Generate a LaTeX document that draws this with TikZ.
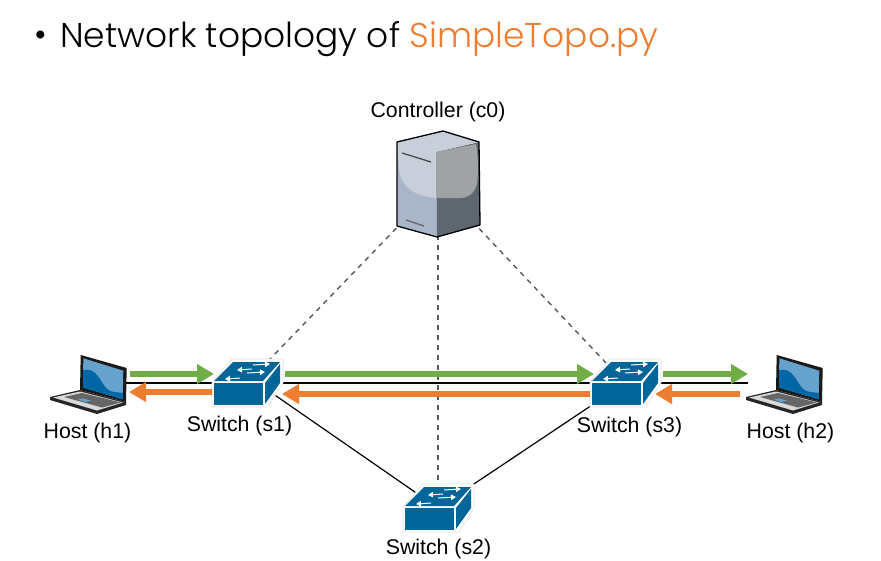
\documentclass[tikz,border=0pt]{standalone}
\usepackage{fontspec}
\setmainfont{Liberation Sans}
\newfontfamily\titlefont{Poppins Light}
\usetikzlibrary{arrows.meta}
\definecolor{swblue}{HTML}{006699}
\definecolor{lapdark}{HTML}{0066A6}
\definecolor{laplight}{HTML}{66A3CC}
\definecolor{arrgreen}{HTML}{70AD47}
\definecolor{arrorange}{HTML}{ED7D31}
\definecolor{srvfront}{HTML}{A9B5C9}
\definecolor{srvside}{HTML}{5E676F}
\definecolor{srvtop}{HTML}{C9CEDB}
\definecolor{srvlight}{HTML}{9FA3A3}
\tikzset{
  anchornode/.style={minimum width=14pt, minimum height=14pt, inner sep=0pt},
  lbl/.style={font=\fontsize{21.3}{24}\selectfont, inner sep=0pt},
  ttl/.style={font=\titlefont\fontsize{34.4}{40}\selectfont, inner sep=0pt},
  ctrl/.style={black!65, line width=1.4pt, dash pattern=on 5pt off 5pt},
  wire/.style={black, line width=1.2pt},
  greenarr/.style={arrgreen, line width=6pt, -{Triangle[length=17pt,width=19pt]}},
  orangearr/.style={arrorange, line width=6pt, -{Triangle[length=17pt,width=19pt]}},
  swarr/.style={white, line width=1pt, -{Triangle[length=5pt,width=5.5pt]}},
  switchicon/.pic={
    \fill[white, draw=black!12, line width=.6pt] (-35,24) -- (-35,-1) -- (-15,-24) -- (36,-24) -- (36,0) -- (21,24) -- cycle;
    \fill[swblue] (-33,22) rectangle (16,0);
    \fill[swblue] (-33,-2) -- (-14,-21) -- (33,-21) -- (16,-2) -- cycle;
    \fill[swblue] (18,0) -- (33,-19) -- (33,0) -- (18,21) -- cycle;
    \draw[swarr] (6,-18) -- (23,-19);
    \draw[swarr] (5,-14) -- (-10,-13);
    \draw[swarr] (0,-10) -- (18,-11);
    \draw[swarr] (-7,-5) -- (-22,-4);
  },
  laptopicon/.pic={
    \fill[black!85] (-30,7) -- (0,0) -- (46,12) -- (46,15) -- (17,24) -- (-30,10) -- cycle;
    \fill[black!15] (-27,7.5) -- (0,1.5) -- (43,12.5) -- (17,20.5) -- cycle;
    \fill[black!60] (-16,7) -- (2,3) -- (41,12.5) -- (22,17.5) -- cycle;
    \fill[laplight] (-2,9.5) -- (3,8.5) -- (11,10.5) -- (5,12) -- cycle;
    \fill[black!90] (0.7,-35) -- (46.7,-22) -- (46,12) -- (0,0) -- cycle;
    \fill[laplight] (3.3,-31.7) -- (43.3,-19.3) -- (42.7,9.3) -- (3,-2.5) -- cycle;
    \fill[lapdark] (3.2,-20) .. controls (17,-23) and (20,-8) .. (27,-1) .. controls (32,3) and (38,2) .. (42.8,3) -- (42.7,9.3) -- (3,-2.5) -- cycle;
  }
}
\begin{document}
\begin{tikzpicture}[x=1pt,y=-1pt]
\useasboundingbox (0,0) rectangle (881,560);
\draw (41,39) node (bullet) [ttl] {•};
\draw (60,39) node (title) [ttl, anchor=west] {Network topology of \textcolor{arrorange}{SimpleTopo.py}};
\draw (438,185) node (c0) [anchornode] {};
\draw (247,383) node (s1) [anchornode] {};
\draw (625,383) node (s3) [anchornode] {};
\draw (438,508) node (s2) [anchornode] {};
\draw (126,383) node (h1) [inner sep=0pt] {};
\draw (748,383) node (h2) [inner sep=0pt] {};
\draw[ctrl] (c0.center) -- (s1.center);
\draw[ctrl] (c0.center) -- (s2.center);
\draw[ctrl] (c0.center) -- (s3.center);
\draw[wire] (h1.center) -- (s1.center);
\draw[wire] (s1.center) -- (s3.center);
\draw[wire] (s3.center) -- (h2.center);
\draw[wire] (s1.north) -- (s2.center);
\draw[wire] (s3.center) -- (s2.center);
\pic at (s1) {switchicon};
\pic at (s2) {switchicon};
\pic at (s3) {switchicon};
\pic at (80,390) {laptopicon};
\pic at (776,390) {laptopicon};
% server
\fill[srvfront] (397,142) -- (436,152) -- (437,237) -- (397,226) -- cycle;
\fill[srvside] (436,152) -- (479,142) -- (480,225) -- (437,237) -- cycle;
\fill[srvtop] (397,142) -- (443,131) -- (479,142) -- (436,152) -- cycle;
\fill[srvtop] (397,142) -- (436,152) -- (436,198) .. controls (415,196) and (402,188) .. (399,170) -- cycle;
\fill[srvlight] (436,152) -- (476,144) .. controls (478,155) and (479,170) .. (477,184) .. controls (474,194) and (468,198) .. (460,198) -- (436,198) -- cycle;
\draw[black!70, line width=1.3pt] (402,153) -- (431,162);
\draw[black!60, line width=1.3pt] (406,220) -- (424,226);
\draw[black, line width=1.3pt, line join=round] (397,142) -- (443,131) -- (479,142) -- (480,225) -- (437,237) -- (397,226) -- cycle;
\draw (130,374) coordinate (ga);
\draw (214,374) coordinate (gb);
\draw (285,374) coordinate (gc);
\draw (594,374) coordinate (gd);
\draw (663,374) coordinate (ge);
\draw (748,374) coordinate (gf);
\draw (212,392) coordinate (oa);
\draw (129,392) coordinate (ob);
\draw (590,394) coordinate (oc);
\draw (282,394) coordinate (od);
\draw (740,394) coordinate (oe);
\draw (655,394) coordinate (of);
\draw[greenarr] (ga) -- (gb);
\draw[greenarr] (gc) -- (gd);
\draw[greenarr] (ge) -- (gf);
\draw[orangearr] (oa) -- (ob);
\draw[orangearr] (oc) -- (od);
\draw[orangearr] (oe) -- (of);
\draw (438,112) node (c0lbl) [lbl] {Controller (c0)};
\draw (87.5,432.5) node (h1lbl) [lbl] {Host (h1)};
\draw (239.5,425.5) node (s1lbl) [lbl] {Switch (s1)};
\draw (629.5,426.5) node (s3lbl) [lbl] {Switch (s3)};
\draw (790.5,432.5) node (h2lbl) [lbl] {Host (h2)};
\draw (438.5,548.5) node (s2lbl) [lbl] {Switch (s2)};
\end{tikzpicture}
\end{document}
